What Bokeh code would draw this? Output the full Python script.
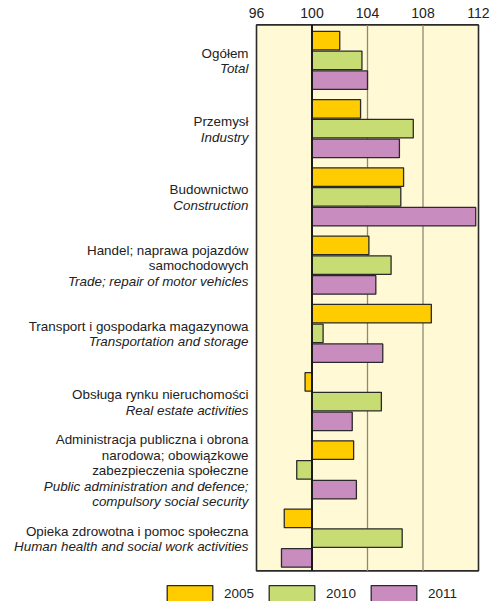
from bokeh.plotting import figure
from bokeh.models import ColumnDataSource, Range1d, FixedTicker, Legend, LegendItem
from bokeh.core.properties import value
from bokeh.embed import file_html
from bokeh.resources import INLINE

# ---- data ----
labels_pl = [
    ["Ogółem"],
    ["Przemysł"],
    ["Budownictwo"],
    ["Handel; naprawa pojazdów", "samochodowych"],
    ["Transport i gospodarka magazynowa"],
    ["Obsługa rynku nieruchomości"],
    ["Administracja publiczna i obrona", "narodowa; obowiązkowe", "zabezpieczenia społeczne"],
    ["Opieka zdrowotna i pomoc społeczna"],
]
labels_en = [
    ["Total"],
    ["Industry"],
    ["Construction"],
    ["Trade; repair of motor vehicles"],
    ["Transportation and storage"],
    ["Real estate activities"],
    ["Public administration and defence;", "compulsory social security"],
    ["Human health and social work activities"],
]
years = ["2005", "2010", "2011"]
v2005 = [102.0, 103.5, 106.6, 104.1, 108.6, 99.5, 103.0, 98.0]
v2010 = [103.6, 107.3, 106.4, 105.7, 100.8, 105.0, 98.9, 106.5]
v2011 = [104.0, 106.3, 111.8, 104.6, 105.1, 102.9, 103.2, 97.8]
tick_values = [96, 100, 104, 108, 112]
base_value = 100

# ---- style ----
FONT = "'Liberation Sans', Arial, sans-serif"
colors = ["#FFCC00", "#C8DC74", "#C98CBF"]
bg = "#FFF9D6"
dark = "#2a2a2a"

W, H = 492, 601
n = len(labels_pl)
PX_X = 13.875
x0_frame = tick_values[0] - 256 / PX_X
x1_frame = tick_values[-1] + (W - 478) / PX_X
TOP = 23
CAT_PX = 68.25
y_end = -(24.4 - TOP) / CAT_PX
y_start = y_end + (H - TOP) / CAT_PX

p = figure(width=W, height=H, output_backend="svg", toolbar_location=None,
           x_axis_location="above", y_axis_location=None,
           x_range=Range1d(x0_frame, x1_frame), y_range=Range1d(y_start, y_end),
           min_border_left=0, min_border_right=0, min_border_bottom=0, min_border_top=TOP)
p.outline_line_color = None
p.xgrid.visible = False
p.ygrid.visible = False
p.background_fill_color = "white"

ax = p.xaxis[0]
ax.ticker = FixedTicker(ticks=tick_values)
ax.axis_line_color = None
ax.major_tick_line_color = None
ax.minor_tick_line_color = None
ax.major_label_standoff = 0
ax.major_label_text_font = FONT
ax.major_label_text_font_size = "14px"
ax.major_label_text_color = "#222222"

# plot box
p.quad(left=[tick_values[0]], right=[tick_values[-1]], bottom=[n], top=[0],
       fill_color=bg, line_color=dark, line_width=1.6)
# grid lines inside box
inner = [t for t in tick_values[1:-1] if t != base_value]
p.segment(x0=inner, x1=inner, y0=[0] * len(inner), y1=[n] * len(inner),
          line_color="#8E8873", line_width=1.3)

# bars
offsets = [-0.27, 0.02, 0.31]
renderers = []
for vals, off, col, yr in zip([v2005, v2010, v2011], offsets, colors, years):
    src = ColumnDataSource(dict(y=[i + 0.5 + off for i in range(n)],
                                left=[base_value] * n, right=vals))
    r = p.hbar(y="y", left="left", right="right", height=0.272, source=src,
               fill_color=col, line_color=dark, line_width=1.3)
    renderers.append(r)

# base line at 100
p.segment(x0=[base_value], x1=[base_value], y0=[0], y1=[n], line_color="#1a1a1a", line_width=2)

# category labels
LINE = 15.5
rows = dict(x=[], y=[], text=[], dy=[])
rows_i = dict(x=[], y=[], text=[], dy=[])
for i, (pl, en) in enumerate(zip(labels_pl, labels_en)):
    lines = [(t, False) for t in pl] + [(t, True) for t in en]
    k = len(lines)
    for j, (t, it) in enumerate(lines):
        d = rows_i if it else rows
        d["x"].append(tick_values[0])
        d["y"].append(i + 0.5)
        d["text"].append(t)
        d["dy"].append((j - (k - 1) / 2) * LINE + 2)
for d, style in [(rows, "normal"), (rows_i, "italic")]:
    p.text(x="x", y="y", text="text", y_offset="dy", x_offset=-8, source=ColumnDataSource(d),
           text_align="right", text_baseline="middle", text_font=value(FONT),
           text_font_size="13.4px", text_font_style=style, text_color="#222222")

legend = Legend(items=[LegendItem(label=yr, renderers=[r]) for yr, r in zip(years, renderers)],
                location=(161, -3), orientation="horizontal",
                glyph_width=57, glyph_height=21, label_height=21, label_standoff=6, spacing=9,
                padding=0, margin=0, border_line_color=None, background_fill_alpha=0,
                label_text_font=FONT, label_text_font_size="13.5px", label_text_color="#222222")
p.add_layout(legend, "center")

open("out.html", "w").write(file_html(p, INLINE))
